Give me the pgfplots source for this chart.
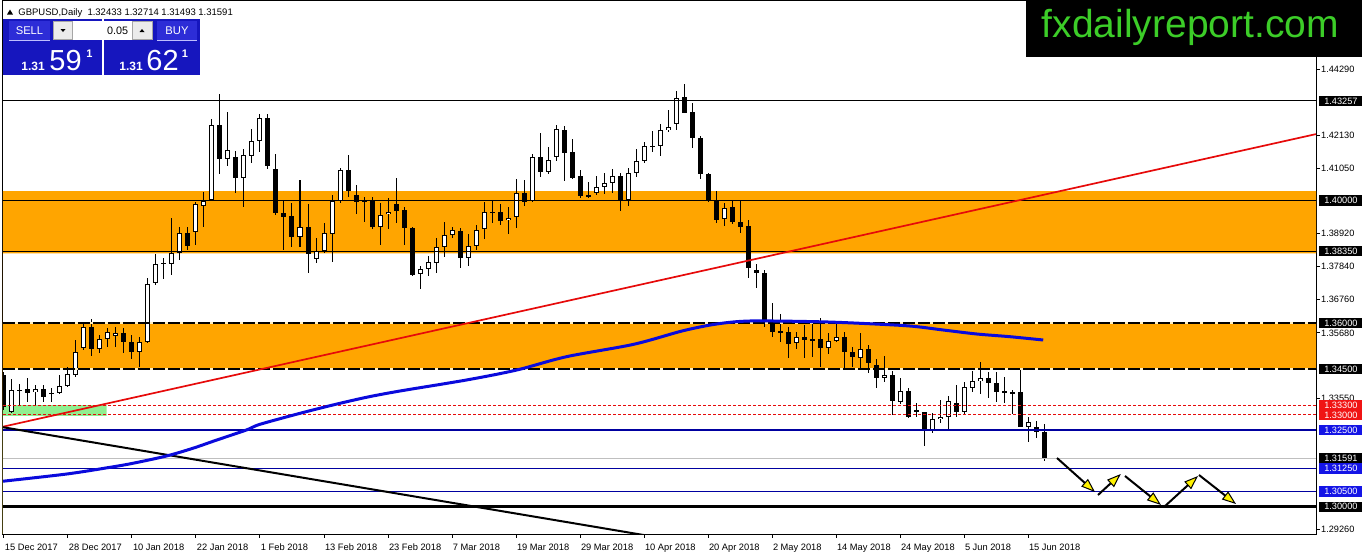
\documentclass[border=0pt]{standalone}
\usepackage{fontspec}
\setmainfont{Liberation Sans}
\usepackage{pgfplots}
\pgfplotsset{compat=1.18}
\usepackage{pgfplotstable}
\usetikzlibrary{arrows.meta}
\definecolor{zone}{RGB}{255,165,0}
\definecolor{lgreen}{RGB}{144,238,144}
\definecolor{navyl}{RGB}{0,0,160}
\definecolor{mablue}{RGB}{10,10,220}
\definecolor{trred}{RGB}{230,10,10}
\definecolor{panel}{RGB}{22,22,190}
\definecolor{panelbtn}{RGB}{45,45,215}
\definecolor{logogreen}{RGB}{60,205,40}
\definecolor{lblblue}{RGB}{20,20,230}
\definecolor{lblred}{RGB}{240,20,20}
\definecolor{gapcol}{RGB}{255,238,190}
\newcommand{\fs}[1]{\fontsize{#1}{#1}\selectfont}

\pgfplotstableread{
i o h l c
0 1.3430 1.3440 1.3316 1.3326
1 1.3310 1.3416 1.3307 1.3381
2 1.3380 1.3401 1.3332 1.3382
3 1.3385 1.3420 1.3343 1.3372
4 1.3374 1.3398 1.3332 1.3385
5 1.3384 1.3398 1.3343 1.3359
6 1.3369 1.3387 1.3343 1.3371
7 1.3370 1.3430 1.3368 1.3394
8 1.3394 1.3457 1.3392 1.3434
9 1.3430 1.3545 1.3425 1.3504
10 1.3518 1.3599 1.3512 1.3586
11 1.3586 1.3612 1.3492 1.3514
12 1.3514 1.3561 1.3501 1.3547
13 1.3547 1.3583 1.3521 1.3570
14 1.3559 1.3586 1.3521 1.3567
15 1.3567 1.3583 1.3503 1.3537
16 1.3537 1.3561 1.3482 1.3506
17 1.3506 1.3553 1.3457 1.3537
18 1.3537 1.3748 1.3534 1.3727
19 1.3730 1.3825 1.3724 1.3793
20 1.3793 1.3812 1.3743 1.3797
21 1.3793 1.3943 1.3757 1.3830
22 1.3828 1.3915 1.3806 1.3893
23 1.3893 1.3915 1.3839 1.3853
24 1.3897 1.3996 1.3855 1.3988
25 1.3983 1.4027 1.3915 1.4000
26 1.4002 1.4266 1.4000 1.4246
27 1.4247 1.4348 1.4086 1.4137
28 1.4137 1.4289 1.4113 1.4164
29 1.4142 1.4163 1.4026 1.4075
30 1.4075 1.4169 1.3980 1.4148
31 1.4145 1.4233 1.4122 1.4194
32 1.4194 1.4283 1.4160 1.4269
33 1.4270 1.4283 1.4102 1.4114
34 1.4102 1.4152 1.3953 1.3961
35 1.3959 1.4000 1.3839 1.3947
36 1.3950 1.3993 1.3849 1.3880
37 1.3880 1.4067 1.3847 1.3913
38 1.3913 1.3989 1.3764 1.3825
39 1.3808 1.3878 1.3795 1.3836
40 1.3836 1.3926 1.3828 1.3893
41 1.3890 1.4018 1.3800 1.3998
42 1.4000 1.4106 1.3993 1.4100
43 1.4100 1.4148 1.4013 1.4031
44 1.4018 1.4051 1.3956 1.3996
45 1.4001 1.4011 1.3931 1.3999
46 1.4000 1.4011 1.3906 1.3915
47 1.3915 1.3991 1.3855 1.3952
48 1.3955 1.4008 1.3906 1.3962
49 1.3988 1.4073 1.3928 1.3967
50 1.3969 1.3980 1.3855 1.3910
51 1.3910 1.3915 1.3755 1.3757
52 1.3759 1.3786 1.3710 1.3776
53 1.3776 1.3820 1.3755 1.3798
54 1.3795 1.3877 1.3764 1.3847
55 1.3847 1.3929 1.3817 1.3887
56 1.3887 1.3915 1.3877 1.3903
57 1.3901 1.3910 1.3781 1.3812
58 1.3812 1.3891 1.3787 1.3851
59 1.3851 1.3920 1.3839 1.3903
60 1.3907 1.3995 1.3874 1.3962
61 1.3961 1.4000 1.3926 1.3963
62 1.3962 1.3988 1.3920 1.3934
63 1.3936 1.3980 1.3890 1.3943
64 1.3945 1.4070 1.3912 1.4024
65 1.4026 1.4067 1.3983 1.3996
66 1.3999 1.4151 1.3996 1.4142
67 1.4142 1.4220 1.4076 1.4094
68 1.4095 1.4174 1.4086 1.4132
69 1.4142 1.4247 1.4130 1.4233
70 1.4231 1.4245 1.4064 1.4157
71 1.4158 1.4201 1.4071 1.4075
72 1.4080 1.4100 1.4010 1.4016
73 1.4015 1.4060 1.4010 1.4017
74 1.4024 1.4080 1.4018 1.4044
75 1.4043 1.4089 1.4021 1.4057
76 1.4057 1.4103 1.4024 1.4080
77 1.4080 1.4089 1.3966 1.4002
78 1.4002 1.4108 1.3982 1.4089
79 1.4091 1.4169 1.4078 1.4130
80 1.4130 1.4192 1.4122 1.4178
81 1.4177 1.4227 1.4160 1.4179
82 1.4178 1.4249 1.4146 1.4231
83 1.4230 1.4296 1.4223 1.4241
84 1.4249 1.4359 1.4231 1.4336
85 1.4337 1.4381 1.4285 1.4287
86 1.4288 1.4318 1.4173 1.4204
87 1.4204 1.4210 1.4070 1.4086
88 1.4086 1.4089 1.3996 1.3999
89 1.3999 1.4032 1.3926 1.3937
90 1.3939 1.3991 1.3918 1.3977
91 1.3978 1.3999 1.3923 1.3931
92 1.3929 1.3999 1.3895 1.3915
93 1.3917 1.3937 1.3746 1.3779
94 1.3773 1.3793 1.3714 1.3762
95 1.3762 1.3773 1.3588 1.3610
96 1.3604 1.3665 1.3553 1.3572
97 1.3573 1.3630 1.3537 1.3571
98 1.3572 1.3586 1.3485 1.3531
99 1.3534 1.3572 1.3514 1.3553
100 1.3553 1.3594 1.3485 1.3545
101 1.3546 1.3597 1.3490 1.3544
102 1.3547 1.3616 1.3457 1.3518
103 1.3518 1.3569 1.3499 1.3540
104 1.3542 1.3597 1.3539 1.3553
105 1.3553 1.3570 1.3449 1.3504
106 1.3504 1.3523 1.3457 1.3488
107 1.3485 1.3569 1.3452 1.3514
108 1.3514 1.3528 1.3438 1.3469
109 1.3463 1.3482 1.3389 1.3421
110 1.3421 1.3492 1.3408 1.3430
111 1.3430 1.3443 1.3300 1.3346
112 1.3343 1.3420 1.3336 1.3379
113 1.3379 1.3387 1.3291 1.3292
114 1.3316 1.3338 1.3294 1.3308
115 1.3308 1.3309 1.3199 1.3248
116 1.3248 1.3305 1.3240 1.3287
117 1.3286 1.3349 1.3274 1.3294
118 1.3294 1.3362 1.3254 1.3345
119 1.3338 1.3397 1.3292 1.3310
120 1.3310 1.3408 1.3300 1.3390
121 1.3389 1.3443 1.3376 1.3411
122 1.3411 1.3474 1.3368 1.3420
123 1.3420 1.3441 1.3354 1.3405
124 1.3403 1.3441 1.3343 1.3376
125 1.3378 1.3425 1.3340 1.3370
126 1.3373 1.3381 1.3303 1.3371
127 1.3376 1.3449 1.3259 1.3259
128 1.3259 1.3292 1.3210 1.3276
129 1.3261 1.3280 1.3223 1.3243
130 1.32433 1.32714 1.31493 1.31591
}\candles

\begin{document}
\begin{tikzpicture}
\useasboundingbox (0,0) rectangle (681pt,277pt);
\begin{axis}[
  at={(1.5pt,10pt)}, anchor=south west,
  scale only axis, width=656.5pt, height=267pt,
  xmin=-0.125, xmax=164, ymin=1.291081, ymax=1.465539,
  axis line style={black, line width=0.5pt},
  xtick={0,8,...,128},
  xticklabels={15 Dec 2017,28 Dec 2017,10 Jan 2018,22 Jan 2018,1 Feb 2018,13 Feb 2018,23 Feb 2018,7 Mar 2018,19 Mar 2018,29 Mar 2018,10 Apr 2018,20 Apr 2018,2 May 2018,14 May 2018,24 May 2018,5 Jun 2018,15 Jun 2018},
  ytick={1.4429,1.4213,1.4105,1.3892,1.3784,1.3676,1.3568,1.3355,1.2926},
  scaled y ticks=false,
  xtick pos=left, ytick pos=right, yticklabel pos=right,
  tick align=outside, major tick length=1.8pt,
  tick style={black, line width=0.5pt},
  xticklabel style={font=\fs{4.65pt}, anchor=base west, inner sep=0pt, xshift=0.3pt, yshift=-6.35pt},
  yticklabel style={font=\fs{4.6pt}, anchor=west, inner sep=0pt, xshift=0.6pt,
     /pgf/number format/.cd, fixed, fixed zerofill, precision=5, assume math mode=true},
]
% zones
\addplot[fill=zone, draw=none, forget plot] coordinates {(-0.125,1.38278) (164,1.38278) (164,1.40313) (-0.125,1.40313)} \closedcycle;
\addplot[fill=zone, draw=none, forget plot] coordinates {(-0.125,1.345) (164,1.345) (164,1.360) (-0.125,1.360)} \closedcycle;
\addplot[fill=lgreen, draw=none, forget plot] coordinates {(-0.125,1.3297) (12.84,1.3297) (12.84,1.3332) (-0.125,1.3332)} \closedcycle;
% wicks
\addplot[draw=none, mark=none, forget plot,
  error bars/.cd, y dir=both, y explicit, error mark=none,
  error bar style={draw=black, line width=0.5pt}]
  table[x=i, y expr={(\thisrow{h}+\thisrow{l})/2}, y error expr={(\thisrow{h}-\thisrow{l})/2}] {\candles};
% bodies
\addplot[draw=none, mark=none, forget plot,
  error bars/.cd, y dir=both, y explicit, error mark=none,
  error bar style={draw=black, line width=2.5pt}]
  table[x=i, y expr={(\thisrow{o}+\thisrow{c})/2}, y error expr={max(abs(\thisrow{c}-\thisrow{o})/2,0.00017)}] {\candles};
\addplot[draw=none, mark=none, forget plot,
  error bars/.cd, y dir=both, y explicit, error mark=none,
  error bar style={draw=white, line width=1.5pt}]
  table[x=i, y expr={(\thisrow{o}+\thisrow{c})/2}, y error expr={ifthenelse(\thisrow{c}>\thisrow{o}, max((\thisrow{c}-\thisrow{o})/2-0.00033,0), 0)}] {\candles};
% horizontal lines
\addplot[black, line width=0.5pt] coordinates {(-0.125,1.43257) (164,1.43257)};
\addplot[black, line width=0.5pt] coordinates {(-0.125,1.40000) (164,1.40000)};
\addplot[black, line width=0.5pt] coordinates {(-0.125,1.38350) (164,1.38350)};
\addplot[gapcol, line width=0.6pt] coordinates {(-0.125,1.36000) (164,1.36000)};
\addplot[black, line width=0.6pt, dash pattern=on 6pt off 1.5pt] coordinates {(-0.125,1.36000) (164,1.36000)};
\addplot[gapcol, line width=0.6pt] coordinates {(-0.125,1.34500) (164,1.34500)};
\addplot[black, line width=0.6pt, dash pattern=on 6pt off 1.5pt] coordinates {(-0.125,1.34500) (164,1.34500)};
\addplot[trred, line width=0.5pt, dash pattern=on 1.5pt off 1pt] coordinates {(-0.125,1.33300) (164,1.33300)};
\addplot[trred, line width=0.5pt, dash pattern=on 1.5pt off 1pt] coordinates {(-0.125,1.33000) (164,1.33000)};
\addplot[navyl, line width=1pt] coordinates {(-0.125,1.32500) (164,1.32500)};
\addplot[black!25, line width=0.5pt] coordinates {(-0.125,1.31591) (164,1.31591)};
\addplot[navyl, line width=0.5pt] coordinates {(-0.125,1.31250) (164,1.31250)};
\addplot[navyl, line width=0.5pt] coordinates {(-0.125,1.30500) (164,1.30500)};
\addplot[black, line width=1.25pt] coordinates {(-0.125,1.30000) (164,1.30000)};
% trend lines
\addplot[trred, line width=0.85pt] coordinates {(-0.125,1.32614) (164,1.42173)};
\addplot[black, line width=1pt] coordinates {(-0.125,1.32596) (82,1.28985)};
% moving average
\addplot[mablue, line width=1.5pt, smooth] coordinates {
(-0.125,1.30833) (7.84,1.31068) (13.25,1.31287) (16.1,1.31418) (20.3,1.31656) (23.6,1.31908)
(26.6,1.32179) (30.3,1.32506) (32,1.32692) (37,1.33051) (41.1,1.33322) (45.3,1.33574)
(49.5,1.3378) (57.8,1.34139) (64.1,1.34466) (70.3,1.3490) (78.7,1.35305) (84.9,1.3575)
(89.1,1.35969) (93.25,1.36067) (101.6,1.36044) (107,1.35992) (113.25,1.35903) (117.4,1.35773)
(121.6,1.35642) (125.75,1.35554) (129.9,1.35446)};
% projection arrows
\addplot[black, line width=1pt, -{Triangle[length=7pt,width=5pt,fill=yellow,line width=0.5pt]}] coordinates {(131.625,1.31591) (136.375,1.30480)};
\addplot[black, line width=1pt, -{Triangle[length=7pt,width=5pt,fill=yellow,line width=0.5pt]}] coordinates {(136.75,1.30382) (139.6,1.31068)};
\addplot[black, line width=1pt, -{Triangle[length=7pt,width=5pt,fill=yellow,line width=0.5pt]}] coordinates {(140.125,1.31003) (144.625,1.30056)};
\addplot[black, line width=1pt, -{Triangle[length=7pt,width=5pt,fill=yellow,line width=0.5pt]}] coordinates {(145,1.29990) (149.25,1.31003)};
\addplot[black, line width=1pt, -{Triangle[length=7pt,width=5pt,fill=yellow,line width=0.5pt]}] coordinates {(149.375,1.31036) (154,1.30088)};
% label anchors
\coordinate (L1) at (axis cs:164,1.43257);
\coordinate (L2) at (axis cs:164,1.40000);
\coordinate (L3) at (axis cs:164,1.38350);
\coordinate (L4) at (axis cs:164,1.36000);
\coordinate (L5) at (axis cs:164,1.34500);
\coordinate (L6) at (axis cs:164,1.33300);
\coordinate (L7) at (axis cs:164,1.33000);
\coordinate (L8) at (axis cs:164,1.32500);
\coordinate (L9) at (axis cs:164,1.31591);
\coordinate (L10) at (axis cs:164,1.31250);
\coordinate (L11) at (axis cs:164,1.30500);
\coordinate (L12) at (axis cs:164,1.30000);
\end{axis}
\tikzset{lbl/.style={anchor=west, inner sep=0pt, minimum height=5.2pt, minimum width=21.5pt, text=white, font=\fs{4.6pt}, xshift=1.5pt}}
\node[lbl, fill=black] at (L1) {1.43257};
\node[lbl, fill=black] at (L2) {1.40000};
\node[lbl, fill=black] at (L3) {1.38350};
\node[lbl, fill=black] at (L4) {1.36000};
\node[lbl, fill=black] at (L5) {1.34500};
\node[lbl, fill=lblred] at (L6) {1.33300};
\node[lbl, fill=lblred] at (L7) {1.33000};
\node[lbl, fill=lblblue] at (L8) {1.32500};
\node[lbl, fill=black] at (L9) {1.31591};
\node[lbl, fill=lblblue] at (L10) {1.31250};
\node[lbl, fill=lblblue] at (L11) {1.30500};
\node[lbl, fill=black] at (L12) {1.30000};
\begin{scope}[x=0.5pt, y=-0.5pt, yshift=277pt]
% header
\fill[black] (7,14.5) -- (13,14.5) -- (10,9.5) -- cycle;
\node[anchor=base west, inner sep=0pt, font=\fs{4.75pt}] at (18,15.5) {GBPUSD,Daily\ \ 1.32433 1.32714 1.31493 1.31591};
% trade panel
\fill[panel] (3,19) rectangle (102,75);
\fill[panel] (104,19) rectangle (200,75);
\fill[panelbtn] (9,21) rectangle (50,39.5);
\fill[panelbtn] (157,21) rectangle (197,39.5);
\draw[white!75!blue, line width=0.5pt] (9,40.5) -- (50,40.5);
\draw[white!75!blue, line width=0.5pt] (157,40.5) -- (197,40.5);
\node[text=white, font=\fs{5.6pt}, inner sep=0pt] at (29.5,30.5) {SELL};
\node[text=white, font=\fs{5.6pt}, inner sep=0pt] at (177,30.5) {BUY};
\fill[white] (53,21) rectangle (152,39.5);
\filldraw[fill=black!8, draw=black!35, line width=0.5pt] (53,21) rectangle (72.5,39.5);
\filldraw[fill=black!8, draw=black!35, line width=0.5pt] (132,21) rectangle (152,39.5);
\fill[black] (60.5,29) -- (65.5,29) -- (63,32) -- cycle;
\fill[black] (139.5,32) -- (144.5,32) -- (142,29) -- cycle;
\node[anchor=east, inner sep=0pt, font=\fs{5.4pt}] at (128.5,30.5) {0.05};
\node[anchor=base west, inner sep=0pt, text=white, font=\bfseries\fs{6pt}] at (21,70.7) {1.31};
\node[anchor=base west, inner sep=0pt, text=white, font=\fs{14.5pt}] at (49,70.7) {59};
\node[anchor=base west, inner sep=0pt, text=white, font=\bfseries\fs{5.5pt}] at (86,57) {1};
\node[anchor=base west, inner sep=0pt, text=white, font=\bfseries\fs{6pt}] at (119,70.7) {1.31};
\node[anchor=base west, inner sep=0pt, text=white, font=\fs{14.5pt}] at (146,70.7) {62};
\node[anchor=base west, inner sep=0pt, text=white, font=\bfseries\fs{5.5pt}] at (181.5,57) {1};
% logo
\fill[black] (1026,0) rectangle (1362,57);
\node[anchor=base west, inner sep=0pt, text=logogreen, font=\fs{19.5pt}] at (1041.5,37.5) {fxdailyreport.com};
\end{scope}
\end{tikzpicture}
\end{document}
